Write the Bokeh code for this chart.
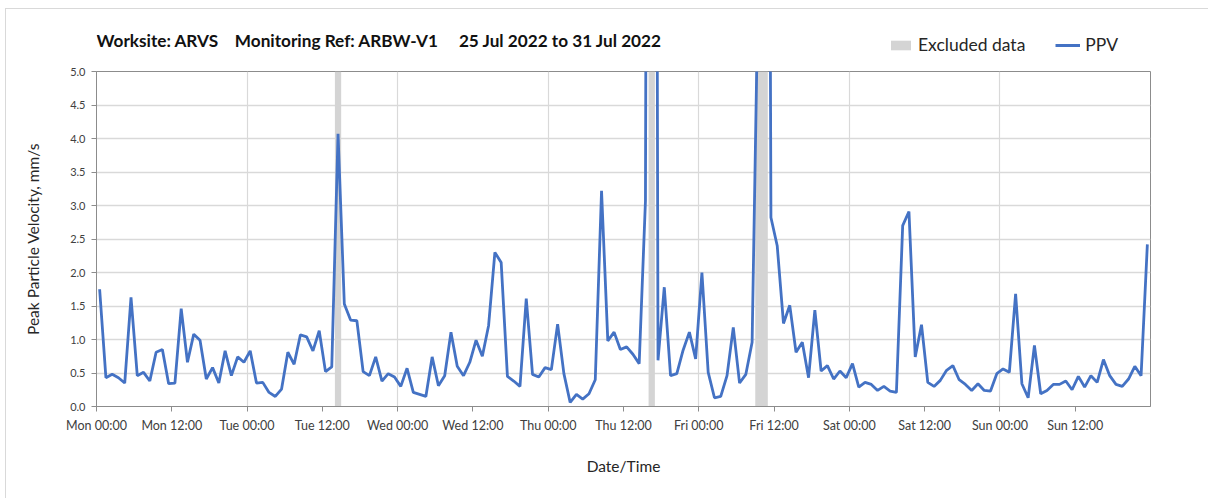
import pandas as pd
from bokeh.plotting import figure
from bokeh.layouts import column
from bokeh.models import (Range1d, FixedTicker, DatetimeTickFormatter, Legend, LegendItem,
                          ColumnDataSource, Label, Div)
from bokeh.embed import file_html
from bokeh.resources import INLINE

# ---- data (hourly PPV, mm/s) ----
mon = [1.75, 0.43, 0.48, 0.43, 0.35, 1.63, 0.46, 0.51, 0.38, 0.81, 0.85, 0.34,
       0.35, 1.46, 0.66, 1.08, 0.99, 0.41, 0.58, 0.35, 0.83, 0.46, 0.74, 0.66]
tue = [0.83, 0.35, 0.36, 0.21, 0.15, 0.26, 0.81, 0.63, 1.07, 1.04, 0.83, 1.13,
       0.52, 0.59, 4.07, 1.53, 1.29, 1.28, 0.52, 0.46, 0.74, 0.38, 0.49, 0.44]
wed = [0.30, 0.57, 0.21, 0.18, 0.15, 0.74, 0.31, 0.46, 1.11, 0.60, 0.46, 0.66,
       0.99, 0.75, 1.21, 2.30, 2.15, 0.45, 0.38, 0.30, 1.61, 0.48, 0.44, 0.58]
thu = [0.55, 1.23, 0.49, 0.06, 0.18, 0.11, 0.19, 0.40, 3.22, 0.98, 1.11, 0.85,
       0.89, 0.78, 0.64, 3.07, 40.0, 0.69, 1.78, 0.46, 0.49, 0.84, 1.11, 0.71]
fri = [2.00, 0.51, 0.13, 0.15, 0.46, 1.18, 0.35, 0.48, 0.96, 6.50, 30.0, 2.82,
       2.40, 1.24, 1.51, 0.81, 0.96, 0.43, 1.44, 0.53, 0.61, 0.41, 0.53, 0.43]
sat = [0.64, 0.29, 0.36, 0.33, 0.24, 0.30, 0.23, 0.21, 2.70, 2.91, 0.74, 1.22,
       0.36, 0.30, 0.39, 0.54, 0.61, 0.40, 0.33, 0.24, 0.34, 0.24, 0.23, 0.49]
sun = [0.56, 0.51, 1.68, 0.34, 0.13, 0.91, 0.19, 0.24, 0.33, 0.33, 0.38, 0.25,
       0.45, 0.29, 0.46, 0.36, 0.70, 0.46, 0.33, 0.30, 0.41, 0.60, 0.46, 2.42]

first_reading = "2022-07-25 00:30"
excl_start = ["2022-07-26 14:00", "2022-07-28 16:00", "2022-07-29 09:00"]
excl_end = ["2022-07-26 15:00", "2022-07-28 17:00", "2022-07-29 11:00"]
period_start = "2022-07-25 00:00"
period_end = "2022-08-01 00:00"
y_ticks = [0.0, 0.5, 1.0, 1.5, 2.0, 2.5, 3.0, 3.5, 4.0, 4.5, 5.0]

title_text = ("Worksite: ARVS" + "\u00a0" * 4 + "Monitoring Ref: ARBW-V1" + "\u00a0" * 5
              + "25 Jul 2022 to 31 Jul 2022")

ppv = mon + tue + wed + thu + fri + sat + sun
times = pd.date_range(first_reading, periods=len(ppv), freq="h")
src = ColumnDataSource(dict(t=times, v=ppv))
excl = ColumnDataSource(dict(l=pd.to_datetime(excl_start), r=pd.to_datetime(excl_end),
                             b=[y_ticks[0]] * 3, tp=[y_ticks[-1]] * 3))

t0 = pd.Timestamp(period_start)
t1 = pd.Timestamp(period_end)

FONT = "Lato"
TXT = "#262626"
BLUE = "#4472C4"
GREY_BAND = "#d4d4d4"
LEFT, FRAME_W, RIGHT = 96, 1054, 40
W = LEFT + FRAME_W + RIGHT
HEAD_H = 58

# ---------------- header (title + legend) ----------------
h = figure(width=W, height=HEAD_H, x_range=Range1d(LEFT, LEFT + FRAME_W), y_range=Range1d(HEAD_H, 0),
           min_border_left=LEFT, min_border_right=RIGHT, min_border_top=0, min_border_bottom=0,
           x_axis_location=None, y_axis_location=None,
           output_backend="svg", toolbar_location=None)
h.grid.visible = False
h.outline_line_color = None
h.background_fill_color = "white"
h.border_fill_color = "white"

h.add_layout(Label(x=LEFT, y=40, text=title_text, text_font=FONT, text_font_size="17.2px",
                   text_font_style="bold", text_color="#111111", text_baseline="middle",
                   text_align="left"))

# legend swatch renderers (kept outside the visible header range)
hq = h.quad(left=[0], right=[1], bottom=[0], top=[1], fill_color=GREY_BAND, line_color=None)
hl = h.line(x=[0, 1], y=[0, 0], line_color=BLUE, line_width=3)
legend = Legend(items=[LegendItem(label="Excluded data", renderers=[hq]),
                       LegendItem(label="PPV", renderers=[hl])],
                orientation="horizontal", location=(792, 3),
                border_line_color=None, background_fill_alpha=0,
                label_text_font=FONT, label_text_font_size="17.5px", label_text_color=TXT,
                glyph_width=25, glyph_height=12, spacing=30, padding=0, margin=0,
                label_standoff=5)
h.add_layout(legend, "center")

# ---------------- main chart ----------------
p = figure(x_axis_type="datetime", frame_width=FRAME_W, frame_height=335,
           min_border_left=LEFT, min_border_right=RIGHT, min_border_top=13, min_border_bottom=78,
           x_range=Range1d(t0, t1), y_range=Range1d(y_ticks[0], y_ticks[-1]),
           output_backend="svg", toolbar_location=None)

p.background_fill_color = "white"
p.border_fill_color = "white"
p.outline_line_color = "#8c8c8c"
p.outline_line_width = 1

q = p.quad(left="l", right="r", bottom="b", top="tp", source=excl,
           fill_color=GREY_BAND, line_color=None)
ln = p.line("t", "v", source=src, line_color=BLUE, line_width=2.8)

ms = lambda ts: ts.value / 1e6
xt = [ms(t0 + pd.Timedelta(hours=12 * i)) for i in range(14)]
xg = [ms(t0 + pd.Timedelta(hours=24 * i)) for i in range(8)]
p.xaxis.ticker = FixedTicker(ticks=xt)
fmt = "%a %H:%M"
p.xaxis.formatter = DatetimeTickFormatter(milliseconds=fmt, seconds=fmt, minsec=fmt, minutes=fmt,
                                          hourmin=fmt, hours=fmt, days=fmt, months=fmt, years=fmt)
p.yaxis.ticker = FixedTicker(ticks=y_ticks)
p.yaxis.major_label_overrides = {t: f"{t:.1f}" for t in y_ticks}

p.xgrid.ticker = FixedTicker(ticks=xg)
p.xgrid.grid_line_color = "#d9d9d9"
p.xgrid.grid_line_width = 1.2
p.ygrid.grid_line_color = "#d9d9d9"
p.ygrid.grid_line_width = 1.5

for ax in (p.xaxis[0], p.yaxis[0]):
    ax.axis_line_color = "#8c8c8c"
    ax.major_tick_line_color = "#8c8c8c"
    ax.minor_tick_line_color = None
    ax.major_tick_in = 0
    ax.major_tick_out = 5
    ax.major_label_text_font = FONT
    ax.major_label_text_color = "#404040"
    ax.axis_label_text_font = FONT
    ax.axis_label_text_font_style = "normal"
    ax.axis_label_text_color = TXT
    ax.axis_label_text_font_size = "15.5px"

p.xaxis.major_label_text_font_size = "12.5px"
p.yaxis.major_label_text_font_size = "11px"
p.xaxis.axis_label = "Date/Time"
p.yaxis.axis_label = "Peak Particle Velocity, mm/s"
p.xaxis.major_label_standoff = 6
p.xaxis.axis_label_standoff = 21
p.yaxis.major_label_standoff = 6
p.yaxis.axis_label_standoff = 25

# light chart-area border (top and left edges, as in the reference)
chart_border = Div(text='<div style="position:fixed; left:5px; top:8px; width:1203px; height:490px; '
                        'border-top:1px solid #d9d9d9; border-left:1px solid #d9d9d9; '
                        'box-sizing:border-box; pointer-events:none;"></div>', width=1, height=1)

page = column(h, p, spacing=0)
open("out.html", "w").write(file_html([page, chart_border], INLINE))
